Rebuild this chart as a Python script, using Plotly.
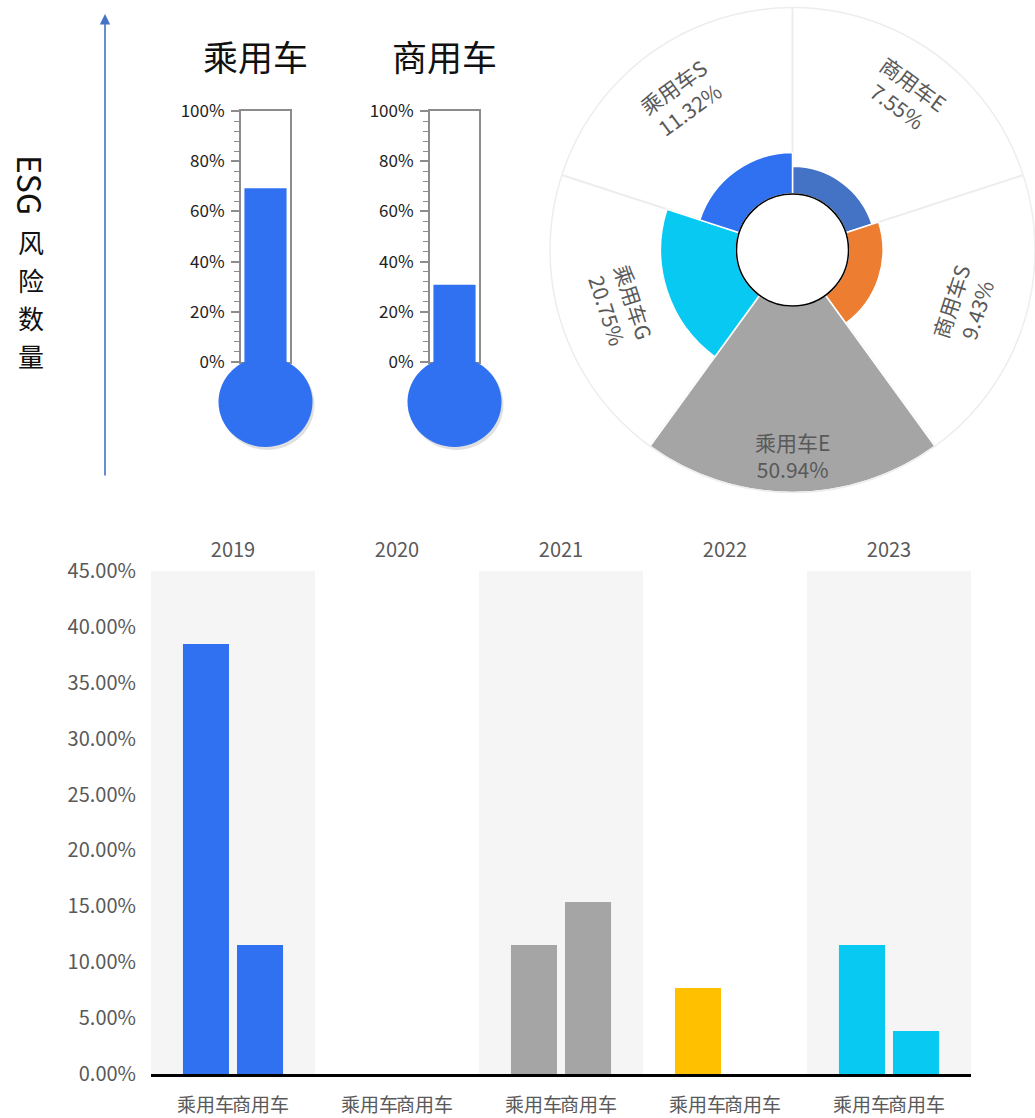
import math
import plotly.graph_objects as go

W, H = 1035, 1118

# ---------------- data ----------------
YEARS = ["2019", "2020", "2021", "2022", "2023"]
SERIES_NAMES = ["乘用车", "商用车"]
PASSENGER = [38.46, 0.0, 11.54, 7.69, 11.54]     # 乘用车 share per year (%)
COMMERCIAL = [11.54, 0.0, 15.38, 0.0, 3.85]      # 商用车 share per year (%)
YEAR_COLORS = ["#3071F2", "#3071F2", "#A5A5A5", "#FFC000", "#08C9F1"]

THERMO_NAMES = ["乘用车", "商用车"]
THERMO_VALUES = [69.23, 30.77]

PIE_LABELS = ["商用车E", "商用车S", "乘用车E", "乘用车G", "乘用车S"]
PIE_VALUES = [7.55, 9.43, 50.94, 20.75, 11.32]
PIE_COLORS = ["#4472C4", "#ED7D31", "#A5A5A5", "#08C9F1", "#3071F2"]

BAR_TICKS = [0, 5, 10, 15, 20, 25, 30, 35, 40, 45]
THERMO_TICKS = [0, 20, 40, 60, 80, 100]

FONT = "Noto Sans CJK SC, Noto Sans, sans-serif"
GREY_TXT = "#595959"
FILL_BLUE = "#3071F2"


def px(x):
    return x / W


def py(y):
    return 1 - y / H


fig = go.Figure()
shapes = []
annotations = []

# ---------------- bottom grouped bar chart ----------------
Y_MAX = BAR_TICKS[-1]
bar_dom_x = [px(151), px(971)]
bar_dom_y = [py(1074), py(571)]
BARGAP = 0.341
BARGROUPGAP = 0.148

# alternating background bands (on base x axis)
band_y = [Y_MAX if i % 2 == 0 else None for i in range(len(YEARS))]
fig.add_trace(go.Bar(x=YEARS, y=band_y, width=1, marker=dict(color="#F5F5F5", line=dict(width=0)),
                     xaxis="x", yaxis="y", hoverinfo="skip", showlegend=False))

for name, vals in zip(SERIES_NAMES, [PASSENGER, COMMERCIAL]):
    fig.add_trace(go.Bar(x=YEARS, y=vals, name=name, marker=dict(color=YEAR_COLORS, line=dict(width=0)),
                         xaxis="x2", yaxis="y", showlegend=False))

# category labels under each bar (computed from the category axis geometry)
dom_w = bar_dom_x[1] - bar_dom_x[0]
band_frac = dom_w / len(YEARS)
slot_frac = band_frac * (1 - BARGAP) / len(SERIES_NAMES)
for i, yr in enumerate(YEARS):
    center = bar_dom_x[0] + (i + 0.5) * band_frac
    for k, name in enumerate(SERIES_NAMES):
        xpos = center + (k - (len(SERIES_NAMES) - 1) / 2) * slot_frac
        annotations.append(dict(x=xpos, xref="paper", y=py(1103), yref="paper", text=name, showarrow=False,
                                xanchor="center", yanchor="middle",
                                font=dict(size=19, color=GREY_TXT, family=FONT)))

# ---------------- thermometers ----------------
thermo_x = [(241, 290), (430, 479)]
thermo_dom_y = [py(362), py(111)]
for i, (name, val) in enumerate(zip(THERMO_NAMES, THERMO_VALUES)):
    xa = f"x{i + 3}"
    ya = f"y{i + 3}"
    fig.add_trace(go.Bar(x=[0], y=[val], width=0.86, marker=dict(color=FILL_BLUE, line=dict(width=0)),
                         xaxis=xa, yaxis=ya, showlegend=False, hoverinfo="skip"))
    x0, x1 = thermo_x[i]
    cx = (x0 + x1) / 2
    # bulb shadow + bulb
    shapes.append(dict(type="circle", xref="paper", yref="paper", x0=px(cx - 45), x1=px(cx + 49),
                       y0=py(450), y1=py(360), fillcolor="rgba(0,0,0,0.12)", line=dict(width=0)))
    shapes.append(dict(type="circle", xref="paper", yref="paper", x0=px(cx - 47), x1=px(cx + 47),
                       y0=py(447), y1=py(357), fillcolor=FILL_BLUE, line=dict(width=0)))
    annotations.append(dict(x=px(cx - 10), y=py(55), xref="paper", yref="paper", text=name, showarrow=False,
                            xanchor="center", yanchor="middle", font=dict(size=35, color="#111111", family=FONT)))

# ---------------- polar (nightingale) chart ----------------
pol_cx, pol_cy, pol_R = 792.5, 250, 242.5
hole_r = 56
n = len(PIE_VALUES)
step = 360 / n
thetas = [step * i + step / 2 for i in range(n)]
fig.add_trace(go.Barpolar(r=PIE_VALUES, theta=thetas, width=[step] * n,
                          marker=dict(color=PIE_COLORS, line=dict(color="white", width=1.5)),
                          showlegend=False, hoverinfo="skip"))
shapes.append(dict(type="circle", xref="paper", yref="paper",
                   x0=px(pol_cx - hole_r), x1=px(pol_cx + hole_r),
                   y0=py(pol_cy + hole_r), y1=py(pol_cy - hole_r),
                   fillcolor="white", line=dict(color="black", width=1.5)))

label_r = [192, 180, 205, 181, 189]
for lab, v, th, rr in zip(PIE_LABELS, PIE_VALUES, thetas, label_r):
    a = math.radians(th)
    lx = pol_cx + rr * math.sin(a)
    ly = pol_cy - rr * math.cos(a)
    ang = th if th <= 90 or th >= 270 else th - 180
    if ang >= 270:
        ang -= 360
    annotations.append(dict(x=px(lx), y=py(ly), xref="paper", yref="paper",
                            text=f"{lab}<br>{v:.2f}%", showarrow=False, textangle=ang,
                            xanchor="center", yanchor="middle",
                            font=dict(size=21, color=GREY_TXT, family=FONT)))

# ---------------- left arrow + vertical title ----------------
annotations.append(dict(x=px(105), y=py(14), xref="paper", yref="paper", ax=0, ay=463, axref="pixel",
                        ayref="pixel", text="", showarrow=True, arrowhead=2, arrowsize=1.3, arrowwidth=1.6,
                        arrowcolor="#4472C4"))
annotations.append(dict(x=px(31), y=py(185), xref="paper", yref="paper", text="ESG", textangle=90,
                        xanchor="center", yanchor="middle",
                        showarrow=False, font=dict(size=32, color="#111111", family=FONT)))
for j, ch in enumerate("风险数量"):
    annotations.append(dict(x=px(31), y=py(241 + 38 * j), xref="paper", yref="paper", text=ch,
                            showarrow=False, xanchor="center", yanchor="middle",
                            font=dict(size=26, color="#111111", family=FONT)))

# ---------------- layout ----------------
thermo_y_axis = dict(domain=thermo_dom_y, range=[0, 100], tickmode="array", tickvals=THERMO_TICKS,
                     ticktext=[f"{t}%" for t in THERMO_TICKS],
                     ticks="outside", ticklen=8, tickwidth=1.5, tickcolor="#8C8C8C",
                     minor=dict(dtick=4, ticks="outside", ticklen=5, tickwidth=1.2, tickcolor="#8C8C8C"),
                     showline=True, linecolor="#8C8C8C", linewidth=2, mirror=True, showgrid=False,
                     zeroline=False, ticklabelstandoff=3, automargin=False,
                     tickfont=dict(size=17, color="#222222", family=FONT), fixedrange=True)
thermo_x_axis = dict(range=[-0.5, 0.5], showline=True, linecolor="#8C8C8C", linewidth=2, mirror=True,
                     showticklabels=False, ticks="", showgrid=False, zeroline=False, automargin=False)

fig.update_layout(
    width=W, height=H, autosize=False,
    margin=dict(l=0, r=0, t=0, b=0, pad=0),
    paper_bgcolor="white", plot_bgcolor="rgba(0,0,0,0)",
    barmode="group", bargap=BARGAP, bargroupgap=BARGROUPGAP,
    font=dict(family=FONT),
    xaxis=dict(domain=bar_dom_x, type="category", categoryarray=YEARS, range=[-0.5, len(YEARS) - 0.5],
               side="top", anchor="y", ticks="", showline=False, showgrid=False, zeroline=False,
               automargin=False, ticklabelstandoff=9, tickfont=dict(size=20, color=GREY_TXT, family=FONT)),
    xaxis2=dict(domain=bar_dom_x, type="category", categoryarray=YEARS, range=[-0.5, len(YEARS) - 0.5],
                overlaying="x", side="bottom", anchor="y", showticklabels=False, ticks="", automargin=False,
                showline=True, linecolor="black", linewidth=2.5, showgrid=False, zeroline=False),
    yaxis=dict(domain=bar_dom_y, range=[0, Y_MAX], tickmode="array", tickvals=BAR_TICKS,
               ticktext=[f"{t:.2f}%" for t in BAR_TICKS],
               showgrid=False, zeroline=False, showline=False, ticks="", ticklabelstandoff=14,
               automargin=False, tickfont=dict(size=20, color=GREY_TXT, family=FONT), anchor="x"),
    xaxis3=dict(domain=[px(thermo_x[0][0]), px(thermo_x[0][1])], anchor="y3", **thermo_x_axis),
    yaxis3=dict(anchor="x3", **thermo_y_axis),
    xaxis4=dict(domain=[px(thermo_x[1][0]), px(thermo_x[1][1])], anchor="y4", **thermo_x_axis),
    yaxis4=dict(anchor="x4", **thermo_y_axis),
    polar=dict(
        domain=dict(x=[px(pol_cx - pol_R), min(1.0, px(pol_cx + pol_R))],
                    y=[py(pol_cy + pol_R), py(pol_cy - pol_R)]),
        hole=hole_r / pol_R,
        bgcolor="white",
        radialaxis=dict(range=[0, max(PIE_VALUES)], visible=False),
        angularaxis=dict(direction="clockwise", rotation=90, tickvals=[step * i for i in range(n)],
                         showticklabels=False, ticks="", showgrid=True, gridcolor="#EDEDED", gridwidth=1.5,
                         showline=True, linecolor="#EDEDED", linewidth=1.5),
    ),
    shapes=shapes,
    annotations=annotations,
)

fig.write_html("out.html", config={"displayModeBar": False},
               post_script="document.body.style.margin='0';document.body.style.overflow='hidden';")
